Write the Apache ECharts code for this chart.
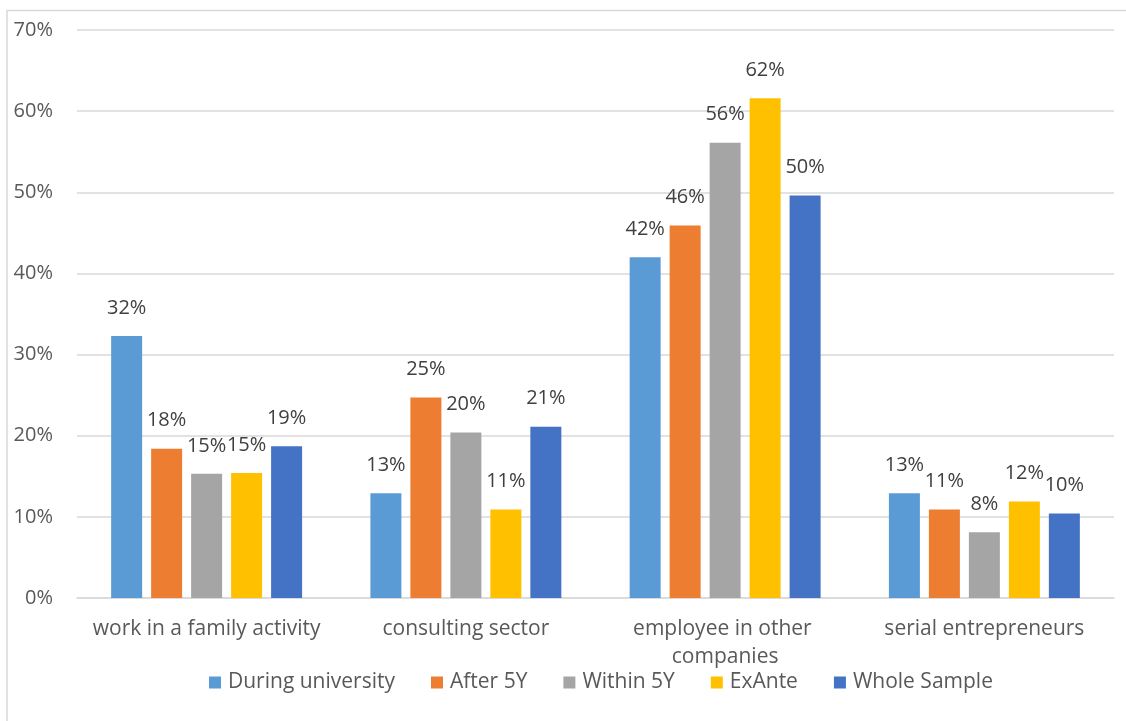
<!DOCTYPE html>
<html>
<head>
<meta charset="utf-8">
<script src="https://cdn.jsdelivr.net/npm/echarts@6/dist/echarts.min.js"></script>
<style>
  html, body { margin: 0; padding: 0; background: #ffffff; }
  #chart { width: 1126px; height: 721px; }
</style>
</head>
<body>
<div id="chart"></div>
<script>
// Career paths by cohort (share of respondents, %)
const categories = ['work in a family activity', 'consulting sector', 'employee in other companies', 'serial entrepreneurs'];
const seriesNames = ['During university', 'After 5Y', 'Within 5Y', 'ExAnte', 'Whole Sample'];
const duringUniversity = [32.3, 12.9, 42.0, 12.9];
const after5Y = [18.4, 24.7, 45.9, 10.9];
const within5Y = [15.3, 20.4, 56.1, 8.1];
const exAnte = [15.4, 10.9, 61.6, 11.9];
const wholeSample = [18.7, 21.1, 49.6, 10.4];
const colors = ['#5B9BD5', '#ED7D31', '#A5A5A5', '#FFC000', '#4472C4'];

const FONT = '"Open Sans", sans-serif';
const valuesList = [duringUniversity, after5Y, within5Y, exAnte, wholeSample];

const chart = echarts.init(document.getElementById('chart'), null, { renderer: 'canvas' });

const series = seriesNames.map((name, i) => ({
  name: name,
  type: 'bar',
  data: valuesList[i],
  barWidth: 31,
  barGap: '29%',
  itemStyle: { color: colors[i] },
  label: {
    show: true,
    position: 'top',
    distance: 18,
    fontFamily: FONT,
    fontSize: 20,
    color: '#404040',
    formatter: p => Math.round(p.value) + '%'
  }
}));

chart.setOption({
  animation: false,
  backgroundColor: '#ffffff',
  graphic: [{
    type: 'rect',
    shape: { x: 7, y: 10.5, width: 1200, height: 800 },
    style: { fill: 'none', stroke: '#d9d9d9', lineWidth: 1.5 },
    silent: true,
    z: -1
  }],
  grid: {
    left: 77, right: 12, top: 30, bottom: 123,
    containLabel: false,
    outerBoundsMode: 'none'
  },
  legend: {
    data: seriesNames,
    left: 204,
    top: 667,
    icon: 'rect',
    itemWidth: 12,
    itemHeight: 12,
    itemGap: 36,
    textStyle: { fontFamily: FONT, fontSize: 21, color: '#595959', padding: [0, 0, 0, 2] }
  },
  xAxis: {
    type: 'category',
    data: categories,
    axisLine: { show: true, lineStyle: { color: '#d9d9d9', width: 1.5 } },
    axisTick: { show: false },
    axisLabel: {
      margin: 17,
      fontFamily: FONT,
      fontSize: 21,
      color: '#595959',
      lineHeight: 28,
      width: 245,
      overflow: 'break',
      interval: 0
    }
  },
  yAxis: {
    type: 'value',
    min: 0,
    max: 70,
    interval: 10,
    axisLine: { show: false },
    axisTick: { show: false },
    splitLine: { lineStyle: { color: '#d9d9d9', width: 1.5 } },
    axisLabel: {
      margin: 24,
      fontFamily: FONT,
      fontSize: 20,
      color: '#595959',
      formatter: '{value}%'
    }
  },
  series: series
});
</script>
</body>
</html>
